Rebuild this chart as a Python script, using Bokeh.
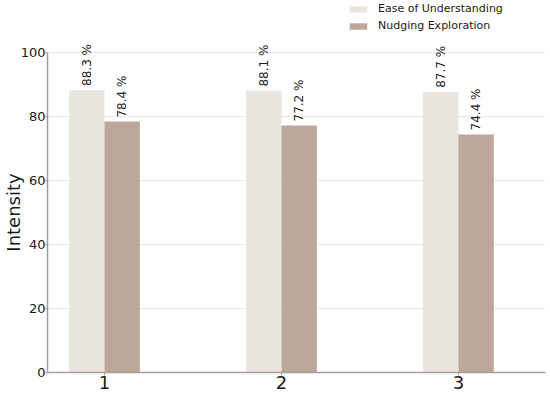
import math
from bokeh.plotting import figure
from bokeh.models import ColumnDataSource, Range1d, FixedTicker, Legend, LegendItem
from bokeh.core.properties import value
from bokeh.embed import file_html
from bokeh.resources import INLINE

groups = [1, 2, 3]
ease = [88.3, 88.1, 87.7]
nudging = [78.4, 77.2, 74.4]
series_names = ["Ease of Understanding", "Nudging Exploration"]
y_ticks = [0, 20, 40, 60, 80, 100]
y_title = "Intensity"
colors = ["#EAE5DE", "#BDA69A"]
bar_w = 0.2
x_lo, x_hi = 0.678, 3.492

p = figure(width=550, height=396, output_backend="svg", toolbar_location=None,
           x_range=Range1d(0.4124, x_hi), y_range=Range1d(-7.5, 116.25),
           min_border_left=0, min_border_top=0, min_border_bottom=0, min_border_right=5)
p.outline_line_color = None

# horizontal grid lines starting at the y axis
p.segment(x0=[x_lo] * len(y_ticks), x1=[x_hi] * len(y_ticks), y0=y_ticks, y1=y_ticks,
          line_color="#e8e8e8", line_width=1)

src_e = ColumnDataSource(dict(x=[g - bar_w / 2 for g in groups], top=ease,
                              lab=[f"{v} %" for v in ease]))
src_n = ColumnDataSource(dict(x=[g + bar_w / 2 for g in groups], top=nudging,
                              lab=[f"{v} %" for v in nudging]))

r1 = p.vbar(x="x", top="top", width=bar_w, bottom=0, source=src_e, fill_color=colors[0], line_color=None)
r2 = p.vbar(x="x", top="top", width=bar_w, bottom=0, source=src_n, fill_color=colors[1], line_color=None)

for s in (src_e, src_n):
    p.text(x="x", y="top", text="lab", source=s, angle=math.pi / 2, text_align="left",
           text_baseline="middle", y_offset=-4, text_font=value("DejaVu Sans"),
           text_font_size="12px", text_color="#222222")

p.xgrid.grid_line_color = None
p.ygrid.grid_line_color = None

p.xaxis.ticker = FixedTicker(ticks=groups)
p.xaxis.bounds = (x_lo, x_hi)
p.xaxis.fixed_location = 0
p.yaxis.ticker = FixedTicker(ticks=y_ticks)
p.yaxis.bounds = (0, 100)
p.yaxis.fixed_location = x_lo
for ax in (p.xaxis, p.yaxis):
    ax.axis_line_color = "#a0a0a0"
    ax.axis_line_width = 1.5
    ax.major_tick_line_color = "#a0a0a0"
    ax.major_tick_in = 0
    ax.major_tick_out = 3
    ax.minor_tick_line_color = None
    ax.major_label_text_font = "DejaVu Sans"
    ax.major_label_text_color = "#1a1a1a"
p.xaxis.major_label_text_font_size = "18px"
p.yaxis.major_label_text_font_size = "13px"
p.xaxis.major_label_standoff = 0
p.yaxis.major_label_standoff = -1
p.yaxis.axis_label = y_title
p.yaxis.axis_label_text_font = "DejaVu Sans"
p.yaxis.axis_label_text_font_size = "18px"
p.yaxis.axis_label_text_font_style = "normal"
p.yaxis.axis_label_text_color = "#1a1a1a"
p.yaxis.axis_label_standoff = -6

legend = Legend(items=[LegendItem(label=series_names[0], renderers=[r1]),
                       LegendItem(label=series_names[1], renderers=[r2])],
                location=(347, 362), padding=0, margin=0, spacing=0,
                glyph_width=22, glyph_height=8, label_standoff=9, label_height=17,
                label_text_font="DejaVu Sans", label_text_font_size="11px",
                label_text_color="#1a1a1a", border_line_color=None, background_fill_alpha=0)
p.add_layout(legend, "center")

open("out.html", "w").write(file_html(p, INLINE))
